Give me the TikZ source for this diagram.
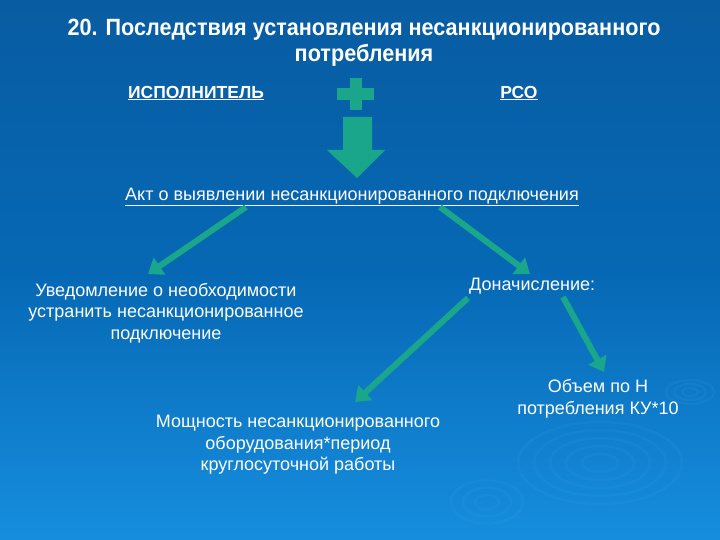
\documentclass[tikz,border=0pt]{standalone}
\usepackage{fontspec}
\setmainfont{Liberation Sans}
\newfontfamily\titlefont{Liberation Sans}[FakeStretch=0.92]
\usetikzlibrary{arrows.meta}
\definecolor{bgtop}{RGB}{8,92,162}
\definecolor{bgmid}{RGB}{6,104,180}
\definecolor{bgbot}{RGB}{22,142,222}
\definecolor{arrowgreen}{RGB}{26,166,138}
\definecolor{ripple}{RGB}{60,160,230}
\tikzset{
  txt/.style={text=white, font=\fontsize{18}{21.5}\selectfont, align=center, inner sep=0pt},
  ttl/.style={text=white, font=\titlefont\bfseries\fontsize{23.5}{26}\selectfont, align=center, inner sep=0pt},
  party/.style={text=white, font=\bfseries\fontsize{17.5}{20}\selectfont, inner sep=0pt},
  flow/.style={draw=arrowgreen, line width=6pt, -{Triangle[width=20pt,length=14pt]}},
  ring/.style={draw=ripple, line width=2.5pt, opacity=0.13},
  greenshape/.style={fill=arrowgreen, draw=none}
}
\begin{document}
\begin{tikzpicture}[x=1pt,y=-1pt]
\shade[top color=bgtop, bottom color=bgbot, middle color=bgmid] (0,0) rectangle (720,540);
\useasboundingbox (0,0) rectangle (720,540);
% ripples
\foreach \r in {18,34,50,66,82}{
  \draw[ring] (600,463) ellipse ({\r} and {\r*0.5});
}
\foreach \r in {8,16,24}{
  \draw[ring] (690,392) ellipse ({\r} and {\r*0.5});
}
\foreach \r in {12,24,36}{
  \draw[ring] (487,502) ellipse ({\r} and {\r*0.6});
}
% title
\node[ttl] (title) at (364,43) {20. Последствия установления несанкционированного\\потребления};
% parties
\node[party] (isp) at (196,93) {\underline{ИСПОЛНИТЕЛЬ}};
\node[party] (rso) at (519,93) {\underline{РСО}};
% plus sign
\fill[greenshape] (350,78) rectangle (362,110);
\fill[greenshape] (337,88) rectangle (374,100);
% big down arrow
\fill[greenshape] (343,117) -- (372,117) -- (372,150) -- (385,150) -- (357,178) -- (327,150) -- (343,150) -- cycle;
% main nodes
\node[txt] (akt) at (352,197) {\underline{Акт о выявлении несанкционированного подключения}};
\node[txt] (uved) at (166,313) {Уведомление о необходимости\\устранить несанкционированное\\подключение};
\node[txt, anchor=west] (donach) at (469,286) {Доначисление:};
\node[txt] (obem) at (598,399) {Объем по Н\\потребления КУ*10};
\node[txt] (mosh) at (298,445) {Мощность несанкционированного\\оборудования*период\\круглосуточной работы};
% coordinates for connectors
\coordinate (a1) at (246,207);
\coordinate (a1t) at (148,274);
\coordinate (a2) at (440,207);
\coordinate (a2t) at (530,274);
\coordinate (d1) at (468,298);
\coordinate (d1t) at (355,402);
\coordinate (d2) at (563,297);
\coordinate (d2t) at (604,372);
\draw[flow] (a1) -- (a1t);
\draw[flow] (a2) -- (a2t);
\draw[flow] (d1) -- (d1t);
\draw[flow] (d2) -- (d2t);
\end{tikzpicture}
\end{document}
